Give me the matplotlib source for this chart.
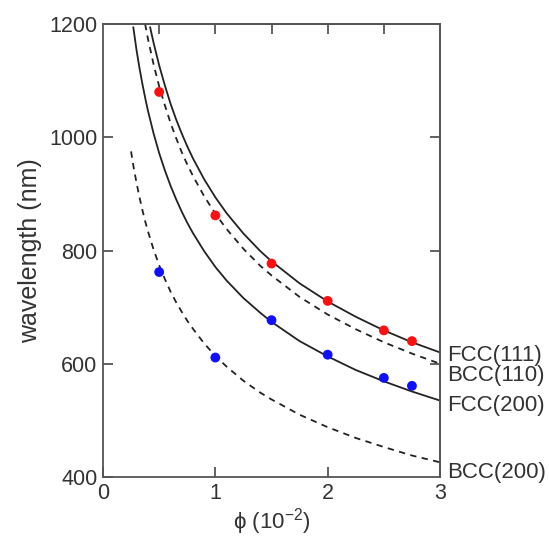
import matplotlib
matplotlib.use("Agg")
import matplotlib.pyplot as plt

plt.rcParams["font.family"] = ["Liberation Sans", "DejaVu Sans"]
plt.rcParams["mathtext.default"] = "regular"

# measured points
phi_pts = [0.5, 1.0, 1.5, 2.0, 2.5, 2.75]
red_pts = [1080, 862, 777, 711, 659, 640]
blue_pts = [762, 611, 677, 616, 575, 561]

# curves
fcc111_x = [0.42, 0.45, 0.5, 0.55, 0.6, 0.65, 0.7, 0.75, 0.8, 0.9, 1.0, 1.1, 1.25, 1.4, 1.5,
            1.75, 2.0, 2.25, 2.5, 2.75, 3.0]
fcc111_y = [1194, 1167, 1127, 1092, 1060, 1032, 1007, 984, 963, 926, 894, 866, 830, 799, 781,
            742, 710, 683, 659, 638, 620]

bcc110_x = [0.375, 0.4, 0.45, 0.5, 0.55, 0.6, 0.65, 0.7, 0.75, 0.8, 0.9, 1.0, 1.1, 1.25, 1.4,
            1.5, 1.75, 2.0, 2.25, 2.5, 2.75, 3.0]
bcc110_y = [1200, 1174, 1129, 1090, 1057, 1026, 999, 974, 952, 932, 896, 865, 838, 803, 773,
            756, 718, 687, 661, 638, 618, 600]

fcc200_x = [0.27, 0.3, 0.325, 0.35, 0.375, 0.4, 0.45, 0.5, 0.55, 0.6, 0.65, 0.7, 0.75, 0.8, 0.9,
            1.0, 1.1, 1.25, 1.4, 1.5, 1.75, 2.0, 2.25, 2.5, 2.75, 3.0]
fcc200_y = [1194, 1152, 1122, 1095, 1070, 1047, 1007, 972, 942, 915, 891, 869, 849, 831, 799,
            771, 747, 716, 690, 674, 640, 613, 589, 569, 551, 535]

bcc200_x = [0.25, 0.27, 0.3, 0.325, 0.35, 0.375, 0.4, 0.45, 0.5, 0.55, 0.6, 0.65, 0.7, 0.75, 0.8,
            0.9, 1.0, 1.1, 1.25, 1.4, 1.5, 1.75, 2.0, 2.25, 2.5, 2.75, 3.0]
bcc200_y = [975, 950, 918, 894, 872, 852, 834, 802, 774, 750, 728, 709, 692, 676, 662,
            636, 614, 595, 570, 549, 537, 510, 488, 469, 453, 438, 426]

curve_labels = ["FCC(111)", "BCC(110)", "FCC(200)", "BCC(200)"]
label_y = [615, 580, 527, 408]

fig = plt.figure(figsize=(5.49, 5.37), dpi=100)
ax = fig.add_axes([0.1876, 0.1117, 0.6139, 0.8436])

ax.plot(fcc111_x, fcc111_y, color="#222222", lw=1.3)
ax.plot(bcc110_x, bcc110_y, color="#222222", lw=1.3, ls=(0, (3.5, 3)))
ax.plot(fcc200_x, fcc200_y, color="#222222", lw=1.3)
ax.plot(bcc200_x, bcc200_y, color="#222222", lw=1.3, ls=(0, (3.5, 3)))

ax.scatter(phi_pts, red_pts, s=50, color="#ff1010", zorder=3, edgecolors="none")
ax.scatter(phi_pts, blue_pts, s=50, color="#1010ff", zorder=3, edgecolors="none")

for lab, yy in zip(curve_labels, label_y):
    ax.text(3.06, yy, lab, fontsize=16, color="#333333", va="center", ha="left", clip_on=False)

ax.set_xlim(0, 3)
ax.set_ylim(400, 1200)
ax.set_xticks([0, 1, 2, 3])
ax.set_yticks([400, 600, 800, 1000, 1200])
ax.tick_params(direction="in", length=7, width=1.3, color="#555555", labelsize=15.5,
               labelcolor="#333333", pad=4)
ax.tick_params(axis="x", pad=4)

top = ax.secondary_xaxis("top")
top.set_xticks([0.5, 1.0, 1.5, 2.0, 2.5])
top.tick_params(direction="in", length=7, width=1.3, color="#555555", labeltop=False)
right = ax.secondary_yaxis("right")
right.set_yticks([600, 800, 1000])
right.tick_params(direction="in", length=7, width=1.3, color="#555555", labelright=False)
for sp in list(ax.spines.values()) + [top.spines["top"], right.spines["right"]]:
    sp.set_linewidth(1.3)
    sp.set_color("#555555")

ax.set_xlabel("ϕ (10$^{-2}$)", fontsize=16, color="#333333", labelpad=2)
ax.set_ylabel("wavelength (nm)", fontsize=18, color="#333333", labelpad=5)

fig.savefig("out.png", dpi=100)
